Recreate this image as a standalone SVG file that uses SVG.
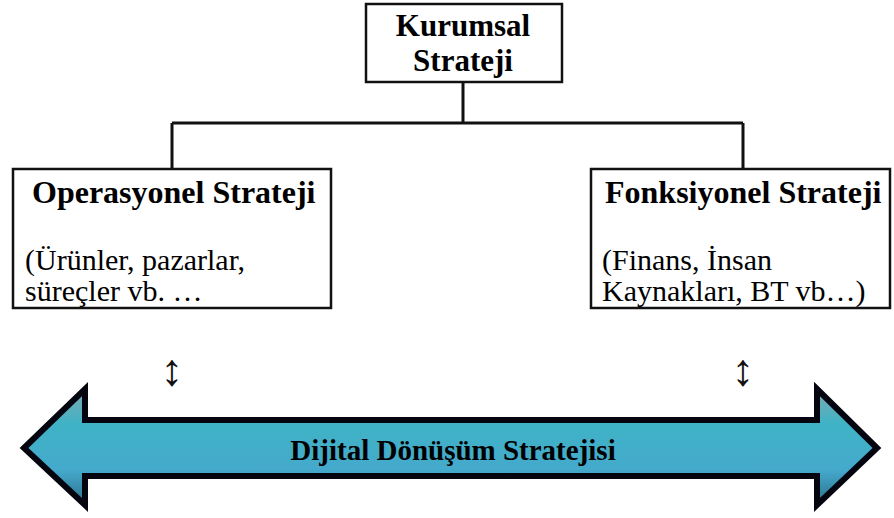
<svg xmlns="http://www.w3.org/2000/svg" width="894" height="518" viewBox="0 0 894 518">
<style>
.box{fill:#fff;stroke:#111;stroke-width:2.5}
.b{font-family:"Liberation Serif","Times New Roman",serif;font-weight:bold;fill:#000}
.r{font-family:"Liberation Serif","Times New Roman",serif;fill:#000}
.con{stroke:#111;stroke-width:3;fill:none}
.sym{font-family:"Liberation Serif","DejaVu Sans",serif;fill:#111}
</style>
<defs>
<linearGradient id="g" x1="0" y1="0" x2="0" y2="1">
<stop offset="0" stop-color="#7fa8b0"/>
<stop offset="0.3" stop-color="#3fb3c6"/>
<stop offset="0.7" stop-color="#45a9cc"/>
<stop offset="1" stop-color="#2a6f8a"/>
</linearGradient>
</defs>
<rect width="894" height="518" fill="#fff"/>
<g id="connectors">
<path class="con" d="M463 82V123M172 123H743M172 123V169M743 123V169"/>
</g>
<g id="kurumsal">
<rect class="box" x="366" y="4" width="196" height="78" stroke-width="3"/>
<text class="b" x="463" y="36" font-size="31" text-anchor="middle">Kurumsal</text>
<text class="b" x="463" y="71" font-size="31" text-anchor="middle">Strateji</text>
</g>
<g id="operasyonel">
<rect class="box" x="13" y="169" width="318" height="139"/>
<text class="b" x="32" y="203" font-size="32">Operasyonel Strateji</text>
<text class="r" x="25" y="270" font-size="30">(Ürünler, pazarlar,</text>
<text class="r" x="25" y="301" font-size="30">süreçler vb. …</text>
</g>
<g id="fonksiyonel">
<rect class="box" x="591" y="169" width="299" height="139"/>
<text class="b" x="605" y="203" font-size="32">Fonksiyonel Strateji</text>
<text class="r" x="602" y="270" font-size="30">(Finans, İnsan</text>
<text class="r" x="602" y="301" font-size="30">Kaynakları, BT vb…)</text>
</g>
<g id="sym-left"><text class="sym" x="172" y="385" font-size="45" text-anchor="middle">↕</text></g>
<g id="sym-right"><text class="sym" x="743" y="385" font-size="45" text-anchor="middle">↕</text></g>
<g id="dijital">
<path d="M24 448L85 389V420H817V389L877 448L817 505V476H85V505Z" fill="url(#g)" stroke="#050510" stroke-width="6" stroke-linejoin="miter"/>
<text class="b" x="453" y="460" font-size="29" text-anchor="middle">Dijital Dönüşüm Stratejisi</text>
</g>
</svg>
